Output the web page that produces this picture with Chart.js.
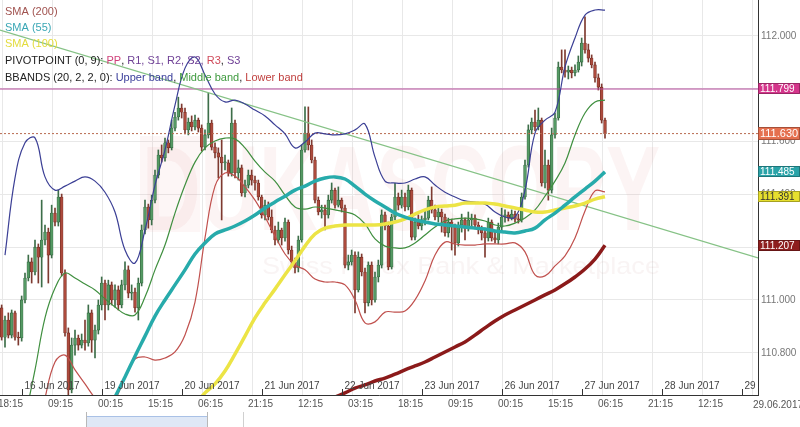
<!DOCTYPE html>
<html>
<head>
<meta charset="utf-8">
<script src="https://cdn.jsdelivr.net/npm/chart.js@4.4.1/dist/chart.umd.min.js"></script>
<style>
  html, body { margin: 0; padding: 0; background: #fff; }
  #wrap { position: relative; width: 800px; height: 427px; }
</style>
</head>
<body>
<div id="wrap"><canvas id="chart" width="800" height="427"></canvas></div>
<script>
// Hourly candles, weekend removed. x unit = trading hours since 16 Jun 2017 00:00
const FIRST_HOUR = -6;
const X_MIN = -6.5;
const X_MAX = 220.9;
const Y_MIN = 110.64;
const Y_MAX = 112.136;

const opens = [
110.970,110.859,110.924,110.867,110.951,110.859,110.856,111.000,111.083,111.144,
111.106,111.200,111.162,111.227,111.257,111.170,111.329,111.295,111.390,111.102,
110.875,110.659,110.829,110.856,110.829,110.848,110.837,110.951,110.848,110.886,
110.981,111.064,110.981,111.057,111.000,111.038,110.981,111.057,111.114,111.026,
111.030,110.970,111.064,111.265,111.352,111.303,111.378,111.473,111.549,111.538,
111.595,111.576,111.651,111.693,111.727,111.711,111.644,111.674,111.655,111.681,
111.651,111.579,111.625,111.670,111.579,111.557,111.541,111.519,111.519,111.481,
111.670,111.481,111.500,111.405,111.435,111.473,111.454,111.443,111.390,111.322,
111.359,111.314,111.265,111.227,111.265,111.235,111.295,111.189,111.144,111.121,
111.227,111.568,111.632,111.587,111.530,111.378,111.333,111.341,111.322,111.378,
111.416,111.359,111.378,111.348,111.132,111.144,111.170,111.038,111.162,111.106,
110.989,111.132,111.000,111.087,111.132,111.322,111.280,111.125,111.314,111.390,
111.359,111.390,111.352,111.416,111.238,111.295,111.280,111.303,111.310,111.378,
111.341,111.314,111.333,111.314,111.254,111.295,111.280,111.216,111.284,111.303,
111.272,111.303,111.310,111.284,111.265,111.254,111.235,111.295,111.235,111.227,
111.276,111.314,111.322,111.310,111.325,111.306,111.303,111.390,111.511,111.644,
111.674,111.655,111.681,111.443,111.511,111.416,111.625,111.689,111.882,111.871,
111.863,111.871,111.860,111.871,111.901,111.973,111.947,111.916,111.890,111.841,
111.806,111.681
];
const highs = [
110.981,110.939,110.951,110.962,110.958,110.878,111.015,111.102,111.170,111.159,
111.227,111.212,111.378,111.284,111.272,111.359,111.348,111.416,111.401,111.114,
110.894,110.856,110.886,110.867,110.871,110.924,110.981,110.962,110.905,111.000,
111.087,111.075,111.075,111.068,111.057,111.053,111.075,111.144,111.129,111.057,
111.045,111.083,111.284,111.378,111.363,111.397,111.492,111.568,111.587,111.613,
111.606,111.681,111.711,111.768,111.742,111.727,111.689,111.697,111.700,111.689,
111.663,111.644,111.784,111.681,111.595,111.576,111.606,111.549,111.530,111.727,
111.681,111.530,111.511,111.454,111.492,111.492,111.469,111.454,111.397,111.378,
111.371,111.341,111.280,111.295,111.272,111.310,111.303,111.204,111.159,111.242,
111.587,111.731,111.731,111.606,111.541,111.390,111.359,111.359,111.397,111.443,
111.424,111.428,111.386,111.359,111.170,111.189,111.182,111.182,111.174,111.121,
111.144,111.144,111.106,111.151,111.341,111.333,111.295,111.325,111.443,111.405,
111.416,111.405,111.435,111.424,111.310,111.322,111.318,111.341,111.393,111.428,
111.359,111.348,111.344,111.325,111.310,111.306,111.287,111.295,111.325,111.310,
111.333,111.325,111.322,111.295,111.280,111.272,111.310,111.303,111.257,111.291,
111.348,111.341,111.333,111.341,111.337,111.325,111.405,111.530,111.663,111.689,
111.719,111.727,111.689,111.568,111.530,111.651,111.708,111.901,111.947,111.947,
111.886,111.882,111.890,111.924,111.992,112.072,111.969,111.928,111.901,111.856,
111.818,111.689
];
const lows = [
110.848,110.821,110.856,110.856,110.848,110.829,110.844,110.989,111.072,111.064,
111.095,111.064,111.049,111.208,111.064,111.159,111.280,111.280,111.091,110.863,
110.636,110.648,110.791,110.810,110.818,110.810,110.825,110.802,110.780,110.871,
110.962,110.924,110.962,110.981,110.973,110.962,110.970,111.038,111.008,111.000,
110.954,110.924,111.053,111.250,111.272,111.284,111.367,111.462,111.522,111.526,
111.557,111.568,111.640,111.681,111.689,111.629,111.625,111.640,111.644,111.636,
111.564,111.568,111.613,111.568,111.538,111.462,111.303,111.492,111.469,111.469,
111.462,111.454,111.393,111.390,111.424,111.435,111.416,111.378,111.310,111.303,
111.303,111.254,111.208,111.216,111.208,111.223,111.174,111.129,111.102,111.106,
111.219,111.560,111.568,111.519,111.367,111.322,111.310,111.265,111.310,111.367,
111.348,111.352,111.333,111.121,111.114,111.132,110.951,111.030,111.091,110.951,
110.977,110.981,110.992,111.068,111.121,111.265,111.114,111.117,111.303,111.341,
111.348,111.337,111.341,111.227,111.227,111.269,111.265,111.284,111.303,111.329,
111.303,111.295,111.257,111.242,111.238,111.189,111.170,111.204,111.257,111.227,
111.261,111.280,111.269,111.250,111.227,111.162,111.223,111.223,111.216,111.212,
111.265,111.295,111.299,111.303,111.295,111.291,111.295,111.382,111.503,111.629,
111.640,111.644,111.431,111.424,111.378,111.405,111.613,111.681,111.860,111.844,
111.837,111.841,111.848,111.863,111.886,111.935,111.901,111.879,111.825,111.795,
111.670,111.613
];
const closes = [
110.859,110.924,110.867,110.951,110.859,110.856,111.000,111.083,111.144,111.106,
111.200,111.162,111.227,111.257,111.170,111.329,111.295,111.390,111.102,110.875,
110.659,110.829,110.856,110.829,110.848,110.837,110.951,110.848,110.886,110.981,
111.064,110.981,111.057,111.000,111.038,110.981,111.057,111.114,111.026,111.030,
110.970,111.064,111.265,111.352,111.303,111.378,111.473,111.549,111.538,111.595,
111.576,111.651,111.693,111.727,111.711,111.644,111.674,111.655,111.681,111.651,
111.579,111.625,111.670,111.579,111.557,111.541,111.519,111.519,111.481,111.670,
111.481,111.500,111.405,111.435,111.473,111.454,111.443,111.390,111.322,111.359,
111.314,111.265,111.227,111.265,111.235,111.295,111.189,111.144,111.121,111.227,
111.568,111.632,111.587,111.530,111.378,111.333,111.341,111.322,111.378,111.416,
111.359,111.378,111.348,111.132,111.144,111.170,111.038,111.162,111.106,110.989,
111.132,111.000,111.087,111.132,111.322,111.280,111.125,111.314,111.390,111.359,
111.390,111.352,111.416,111.238,111.295,111.280,111.303,111.310,111.378,111.341,
111.314,111.333,111.314,111.254,111.295,111.280,111.216,111.284,111.303,111.272,
111.303,111.310,111.284,111.265,111.254,111.235,111.295,111.235,111.227,111.276,
111.314,111.322,111.310,111.325,111.306,111.303,111.390,111.511,111.644,111.674,
111.655,111.681,111.443,111.511,111.416,111.625,111.689,111.882,111.871,111.863,
111.871,111.860,111.871,111.901,111.973,111.947,111.916,111.890,111.841,111.806,
111.681,111.630
];

// Indicator samples, every 3 trading hours
const bandHours = [-5,-2,1,4,7,10,13,16,19,22,25,28,31,34,37,40,43,46,49,52,55,58,61,64,67,70,
  73,76,79,82,85,88,91,94,97,100,103,106,109,112,115,118,121,124,127,130,133,136,139,142,145,
  148,151,154,157,160,163,166,169,172,175];
const upperBand = [
111.170,111.462,111.595,111.614,111.466,111.416,111.431,111.450,111.466,111.450,
111.408,111.333,111.189,111.140,111.265,111.435,111.568,111.738,111.878,111.920,
111.852,111.780,111.750,111.757,111.742,111.719,111.697,111.663,111.629,111.576,
111.598,111.632,111.629,111.625,111.629,111.644,111.666,111.541,111.450,111.443,
111.443,111.458,111.466,111.435,111.408,111.390,111.375,111.371,111.363,111.333,
111.314,111.314,111.416,111.632,111.681,111.711,111.882,111.992,112.079,112.098,
112.098];
const middleBand = [
null,null,110.553,110.735,110.932,111.045,111.102,111.083,111.060,111.038,
111.004,110.973,110.947,110.943,111.011,111.114,111.208,111.329,111.435,111.522,
111.576,111.602,111.613,111.610,111.576,111.526,111.484,111.450,111.397,111.352,
111.344,111.352,111.348,111.341,111.333,111.322,111.288,111.231,111.204,111.197,
111.197,111.216,111.246,111.276,111.299,111.307,111.310,111.307,111.299,111.284,
111.280,111.291,111.310,111.341,111.393,111.450,111.519,111.625,111.708,111.750,
111.757];
const lowerBand = [
null,null,null,110.450,110.628,110.765,110.791,110.735,110.682,110.628,
110.583,110.621,110.708,110.776,110.784,110.772,110.780,110.803,110.867,110.992,
111.235,111.431,111.481,111.469,111.428,111.378,111.314,111.242,111.174,111.132,
111.114,111.079,111.068,111.068,111.057,111.000,110.913,110.917,110.954,110.954,
110.958,111.000,111.072,111.170,111.219,111.212,111.208,111.208,111.212,111.212,
111.212,111.216,111.182,111.095,111.091,111.129,111.167,111.235,111.337,111.413,
111.409];
const sma55 = [
null,null,null,null,null,null,null,null,null,null,
110.556,110.632,110.708,110.787,110.863,110.939,111.000,111.057,111.114,111.174,
111.216,111.250,111.265,111.280,111.299,111.322,111.348,111.371,111.393,111.416,
111.431,111.450,111.462,111.466,111.458,111.431,111.401,111.375,111.352,111.329,
111.314,111.303,111.295,111.288,111.284,111.280,111.276,111.272,111.269,111.261,
111.257,111.254,111.261,111.272,111.303,111.329,111.359,111.390,111.420,111.450,
111.485];
const sma100 = [
null,null,null,null,null,null,null,null,null,null,
null,null,null,null,null,null,null,null,null,110.602,
110.648,110.682,110.731,110.795,110.863,110.932,110.989,111.041,111.095,111.148,
111.204,111.250,111.272,111.280,111.284,111.284,111.284,111.284,111.288,111.295,
111.307,111.325,111.341,111.352,111.356,111.359,111.367,111.367,111.367,111.363,
111.356,111.348,111.341,111.333,111.333,111.341,111.348,111.356,111.367,111.382,
111.391];
const sma200 = [
null,null,null,null,null,null,null,null,null,null,
null,null,null,null,null,null,null,null,null,null,
null,null,null,null,null,null,null,null,null,null,
null,null,null,110.632,110.648,110.666,110.678,110.693,110.704,110.719,
110.735,110.750,110.765,110.784,110.803,110.822,110.841,110.867,110.894,110.920,
110.943,110.962,110.981,111.000,111.019,111.038,111.061,111.087,111.117,111.155,
111.207];

const trendHours = [-6.5, 220.9];
const trendValues = [112.022, 111.159];
const PIVOT = 111.799;
const LAST_PRICE = 111.630;

// Axis ticks and labels
const yTicks = [110.8, 111.0, 111.2, 111.4, 111.6, 111.8, 112.0];
const gridHours = [-5.75, 9.25, 24.25, 39.25, 54.25, 69.25, 84.25, 99.25, 114.25, 129.25,
  144.25, 159.25, 174.25, 189.25, 204.25, 219.25];
const timeLabels = ["18:15", "09:15", "00:15", "15:15", "06:15", "21:15", "12:15", "03:15",
  "18:15", "09:15", "00:15", "15:15", "06:15", "21:15", "12:15", ""];
const dayHours = [0, 24, 48, 72, 96, 120, 144, 168, 192, 216];
const dayLabels = ["16 Jun 2017", "19 Jun 2017", "20 Jun 2017", "21 Jun 2017", "22 Jun 2017",
  "23 Jun 2017", "26 Jun 2017", "27 Jun 2017", "28 Jun 2017", "29 Jun 2017"];

// Right-axis value badges
const badgeValues = [111.799, 111.630, 111.485, 111.391, 111.207];
const badgeFill = ["#d4358b", "#e5704f", "#2aa3a8", "#e6df2e", "#8e1e1e"];
const badgeText = ["#fff", "#fff", "#fff", "#333", "#fff"];

const GREEN = "#559a64";
const RED = "#ad4b3d";

const candleX = (i) => FIRST_HOUR + i;
const isUp = (i) => closes[i] >= opens[i];

const series = (values) => bandHours.map((h, i) => ({ x: h, y: values[i] }));

function lineSet(values, color, width, order) {
  return {
    type: "line",
    data: series(values),
    borderColor: color,
    borderWidth: width,
    pointRadius: 0,
    tension: 0.4,
    fill: false,
    order,
  };
}

const legendRows = [
  [["SMA (200)", "#a0524f"]],
  [["SMA (55)", "#3aa7b5"]],
  [["SMA (100)", "#e3dc3c"]],
  [["PIVOTPOINT (0, 9): ", "#222"], ["PP", "#d0407a"], [", ", "#222"], ["R1, S1, R2, S2, ", "#6e3f95"],
   ["R3", "#d04a5a"], [", ", "#222"], ["S3", "#6e3f95"]],
  [["BBANDS (20, 2, 2, 0): ", "#222"], ["Upper band", "#3b3f9b"], [", ", "#222"],
   ["Middle band", "#3f9a3f"], [", ", "#222"], ["Lower band", "#c0403f"]],
];
const legendBaselines = [15, 31, 47, 64, 81];

const watermark = {
  id: "watermark",
  beforeDatasetsDraw(chart) {
    const { ctx } = chart;
    ctx.save();
    ctx.fillStyle = "rgba(240,170,170,0.10)";
    ctx.fillRect(140, 136, 60, 96);
    ctx.font = "bold 120px Arial";
    ctx.fillStyle = "rgba(225,130,130,0.09)";
    ctx.textBaseline = "alphabetic";
    const w = ctx.measureText("DUKASCOPY").width;
    ctx.translate(142, 230);
    ctx.scale(518 / w, 1);
    ctx.fillText("DUKASCOPY", 0, 0);
    ctx.restore();

    ctx.save();
    ctx.font = "24px Arial";
    ctx.fillStyle = "rgba(200,150,150,0.10)";
    const w2 = ctx.measureText("Swiss Forex Bank & Marketplace").width;
    ctx.translate(262, 274);
    ctx.scale(398 / w2, 1);
    ctx.fillText("Swiss Forex Bank & Marketplace", 0, 0);
    ctx.restore();
  },
};

const overlay = {
  id: "overlay",
  afterDraw(chart) {
    const { ctx, chartArea, scales } = chart;
    const xs = scales.x;
    const ys = scales.y;

    // y labels
    ctx.save();
    ctx.font = "10px Arial";
    ctx.fillStyle = "#777";
    ctx.textBaseline = "middle";
    ctx.textAlign = "left";
    yTicks.forEach((v) => ctx.fillText(v.toFixed(3), chartArea.right + 3, ys.getPixelForValue(v)));

    // time labels below the axis
    ctx.fillStyle = "#555";
    ctx.textAlign = "center";
    gridHours.forEach((h, i) => {
      if (timeLabels[i]) ctx.fillText(timeLabels[i], xs.getPixelForValue(h) + 8, 404);
    });
    ctx.fillText("29.06.2017", 778, 405);
    ctx.restore();

    // day ticks and labels, clipped to the plot
    ctx.save();
    ctx.beginPath();
    ctx.rect(chartArea.left, 0, chartArea.right - chartArea.left, chartArea.bottom + 1);
    ctx.clip();
    ctx.font = "10px Arial";
    ctx.fillStyle = "#444";
    ctx.strokeStyle = "#333";
    ctx.lineWidth = 1;
    ctx.textBaseline = "alphabetic";
    dayHours.forEach((h, i) => {
      const px = Math.round(xs.getPixelForValue(h)) + 0.5;
      ctx.beginPath();
      ctx.moveTo(px, chartArea.bottom - 6);
      ctx.lineTo(px, chartArea.bottom);
      ctx.stroke();
      ctx.fillText(dayLabels[i], px + 2, chartArea.bottom - 6);
    });
    ctx.restore();

    // value badges on the right axis
    ctx.save();
    ctx.textBaseline = "middle";
    badgeValues.forEach((v, i) => {
      const py = ys.getPixelForValue(v);
      const big = v === LAST_PRICE;
      const h = big ? 13 : 11;
      ctx.fillStyle = badgeFill[i];
      ctx.fillRect(chartArea.right, Math.round(py - h / 2), 800 - chartArea.right, h);
      ctx.strokeStyle = "rgba(0,0,0,0.35)";
      ctx.lineWidth = 0.8;
      ctx.strokeRect(chartArea.right + 0.5, Math.round(py - h / 2) + 0.5, 800 - chartArea.right - 1, h - 1);
      ctx.fillStyle = badgeText[i];
      ctx.font = big ? "11px Arial" : "10px Arial";
      ctx.fillText(v.toFixed(3), chartArea.right + 2, py + 0.5);
    });
    ctx.restore();

    // legend
    ctx.save();
    ctx.font = "11px Arial";
    ctx.textBaseline = "alphabetic";
    legendRows.forEach((row, r) => {
      let x = 5;
      row.forEach(([text, color]) => {
        ctx.fillStyle = color;
        ctx.fillText(text, x, legendBaselines[r]);
        x += ctx.measureText(text).width;
      });
    });
    ctx.restore();

    // navigator strip
    ctx.save();
    ctx.fillStyle = "#dfe8f6";
    ctx.fillRect(86, 416, 122, 11);
    ctx.strokeStyle = "#a9c1e6";
    ctx.beginPath();
    ctx.moveTo(86, 416.5);
    ctx.lineTo(208, 416.5);
    ctx.stroke();
    ctx.strokeStyle = "#b8b8b8";
    [86.5, 207.5].forEach((x) => {
      ctx.beginPath();
      ctx.moveTo(x, 412);
      ctx.lineTo(x, 427);
      ctx.stroke();
    });
    ctx.strokeStyle = "#d0d0d0";
    ctx.beginPath();
    ctx.moveTo(243.5, 412);
    ctx.lineTo(243.5, 427);
    ctx.stroke();
    ctx.restore();
  },
};

new Chart(document.getElementById("chart"), {
  type: "bar",
  data: {
    datasets: [
      lineSet(sma200, "#8b1a1a", 3.5, 2),
      lineSet(sma55, "#27abab", 3.5, 2),
      lineSet(sma100, "#ece445", 3.5, 2),
      lineSet(upperBand, "#3b3f95", 1.2, 4),
      lineSet(middleBand, "#3f8f3f", 1.2, 4),
      lineSet(lowerBand, "#c0504d", 1.2, 4),
      {
        type: "line",
        data: trendHours.map((h, i) => ({ x: h, y: trendValues[i] })),
        borderColor: "#86c286",
        borderWidth: 1.2,
        pointRadius: 0,
        order: 6,
      },
      {
        type: "line",
        data: [{ x: X_MIN, y: PIVOT }, { x: X_MAX, y: PIVOT }],
        borderColor: "#b4489a",
        borderWidth: 1.2,
        pointRadius: 0,
        order: 7,
      },
      {
        type: "line",
        data: [{ x: X_MIN, y: LAST_PRICE }, { x: X_MAX, y: LAST_PRICE }],
        borderColor: "#b8694f",
        borderWidth: 1,
        borderDash: [2, 2],
        pointRadius: 0,
        order: 7,
      },
      {
        type: "bar",
        data: opens.map((o, i) => ({ x: candleX(i), y: [o, closes[i]] })),
        backgroundColor: opens.map((_, i) => (isUp(i) ? GREEN : RED)),
        borderColor: opens.map((_, i) => (isUp(i) ? "#2f5e3b" : "#6e2a20")),
        borderWidth: 0.6,
        borderSkipped: false,
        barThickness: 2.8,
        minBarLength: 1,
        grouped: false,
        order: 10,
      },
      {
        type: "bar",
        data: lows.map((l, i) => ({ x: candleX(i), y: [l, highs[i]] })),
        backgroundColor: opens.map((_, i) => (isUp(i) ? "#3d6e49" : "#7e3a30")),
        barThickness: 1,
        grouped: false,
        order: 11,
      },
    ],
  },
  options: {
    responsive: false,
    animation: false,
    devicePixelRatio: 1,
    layout: { padding: 0 },
    plugins: { legend: { display: false }, tooltip: { enabled: false } },
    events: [],
    scales: {
      x: {
        type: "linear",
        min: X_MIN,
        max: X_MAX,
        offset: false,
        afterBuildTicks: (s) => { s.ticks = gridHours.map((v) => ({ value: v })); },
        afterFit: (s) => { s.height = 32; },
        ticks: { display: false },
        grid: { color: "#e8e8e8", drawTicks: false, offset: false },
        border: { display: true, color: "#333" },
      },
      y: {
        type: "linear",
        position: "right",
        min: Y_MIN,
        max: Y_MAX,
        afterBuildTicks: (s) => { s.ticks = yTicks.map((v) => ({ value: v })); },
        afterFit: (s) => { s.width = 42; },
        ticks: { display: false },
        grid: { color: "#e8e8e8", drawTicks: false },
        border: { display: true, color: "#333" },
      },
    },
  },
  plugins: [watermark, overlay],
});
</script>
</body>
</html>
